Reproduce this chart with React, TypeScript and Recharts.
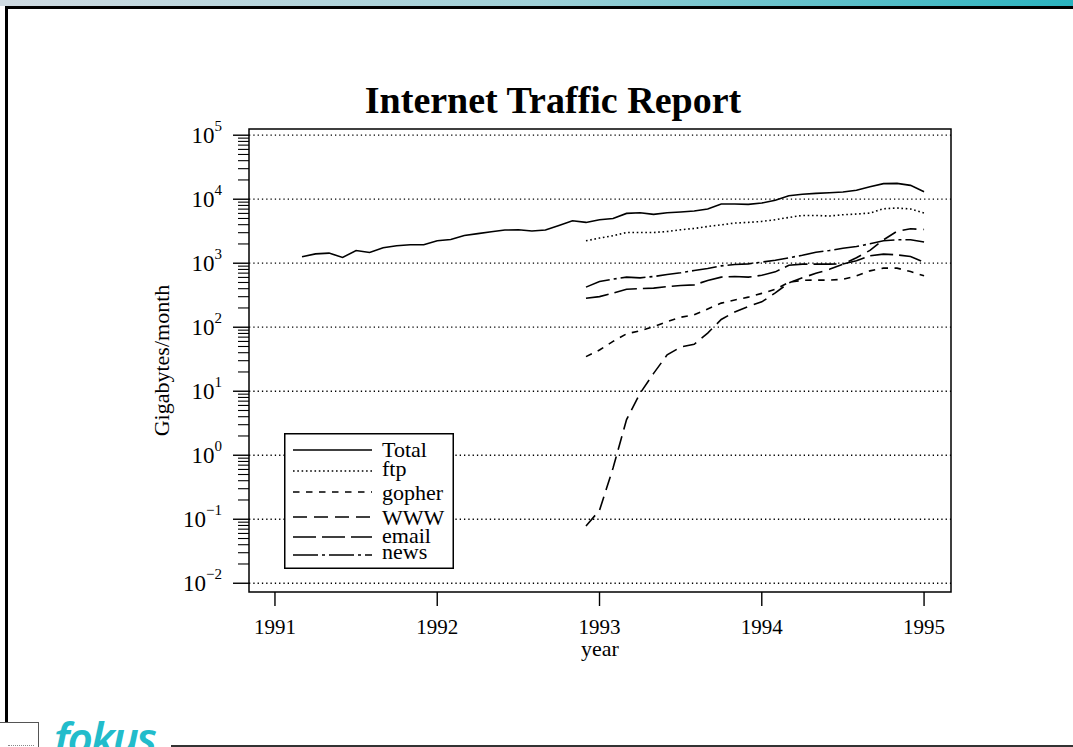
import React from 'react';
import {
  LineChart,
  Line,
  XAxis,
  YAxis,
  ReferenceLine,
  ReferenceArea,
  Legend,
  Label
} from 'recharts';

const FONT = '"Liberation Serif", "Times New Roman", serif';
const W = 1073;
const H = 747;

// monthly samples, Total starts earlier than the per-service series
const months = [
  '1991-03', '1991-04', '1991-05', '1991-06', '1991-07', '1991-08', '1991-09', '1991-10', '1991-11', '1991-12',
  '1992-01', '1992-02', '1992-03', '1992-04', '1992-05', '1992-06', '1992-07', '1992-08', '1992-09', '1992-10', '1992-11', '1992-12',
  '1993-01', '1993-02', '1993-03', '1993-04', '1993-05', '1993-06', '1993-07', '1993-08', '1993-09', '1993-10', '1993-11', '1993-12',
  '1994-01', '1994-02', '1994-03', '1994-04', '1994-05', '1994-06', '1994-07', '1994-08', '1994-09', '1994-10', '1994-11', '1994-12',
  '1995-01'
];
const firstServiceMonth = '1992-12';

const total = [
  1260, 1400, 1440, 1230, 1580, 1470, 1740, 1870, 1940, 1940,
  2240, 2350, 2710, 2900, 3100, 3300, 3330, 3180, 3300, 3890, 4610, 4340,
  4780, 5010, 6000, 6150, 5790, 6150, 6310, 6530, 7030, 8420, 8420, 8300,
  8720, 9640, 11350, 11980, 12330, 12640, 12970, 13840, 15700, 17520, 17680, 16440,
  13100
];
const ftp = [
  2240, 2470, 2690, 3020, 3020, 3020, 3130, 3330, 3490, 3750, 3980, 4240, 4340,
  4500, 4780, 5190, 5580, 5580, 5460, 5720, 5860, 6080, 7100, 7280, 7030, 6080
];
const gopher = [
  34.7, 44, 60, 79, 88, 102, 122, 143, 156, 193, 238, 267, 295,
  338, 391, 503, 540, 545, 545, 560, 635, 760, 838, 838, 741, 635
];
const www = [
  0.0785, 0.138, 0.63, 3.6, 9.3, 19, 37, 49, 54, 81, 132, 173, 211,
  249, 344, 494, 591, 695, 803, 962, 1216, 1590, 2320, 3160, 3450, 3370
];
const email = [
  284, 301, 340, 393, 402, 408, 432, 448, 459, 536, 606, 620, 606,
  647, 733, 927, 968, 968, 968, 975, 1092, 1306, 1387, 1352, 1273, 1040
];
const news = [
  423, 517, 564, 606, 591, 620, 666, 708, 769, 826, 910, 955, 978,
  1040, 1110, 1216, 1330, 1480, 1580, 1710, 1820, 2010, 2240, 2320, 2320, 2140
];

const yearTicks = [1991, 1992, 1993, 1994, 1995];
const decades = [-2, -1, 0, 1, 2, 3, 4, 5];
const minorSteps = [2, 3, 4, 5, 6, 7, 8, 9];

const xDomain = [1990.84, 1995.166];
const yDomain = [0.0073, 125000];

const series = [
  { key: 'total', name: 'Total', dash: undefined as string | undefined },
  { key: 'ftp', name: 'ftp', dash: '1.6 2.7' },
  { key: 'gopher', name: 'gopher', dash: '6.5 6.5' },
  { key: 'www', name: 'WWW', dash: '14 7' },
  { key: 'email', name: 'email', dash: '23 6' },
  { key: 'news', name: 'news', dash: '25 4 3 4' }
];

const toYear = (m: string) => {
  const [y, mo] = m.split('-').map(Number);
  return y + (mo - 1) / 12;
};

const svcStart = months.indexOf(firstServiceMonth);
const svc = (arr: number[], i: number) => (i >= svcStart ? arr[i - svcStart] : null);

const rows = months.map((m, i) => ({
  t: toYear(m),
  total: total[i],
  ftp: svc(ftp, i),
  gopher: svc(gopher, i),
  www: svc(www, i),
  email: svc(email, i),
  news: svc(news, i)
}));

const yTicks = decades.flatMap((d) =>
  d < 5 ? [10 ** d, ...minorSteps.map((k) => k * 10 ** d)] : [10 ** d]
);

function YTick(props: any) {
  const { x, y, payload } = props;
  const lg = Math.log10(payload.value);
  const e = Math.round(lg);
  const major = Math.abs(lg - e) < 1e-6;
  return (
    <g>
      <line
        x1={x - (major ? 16 : 11)}
        x2={x}
        y1={y}
        y2={y}
        stroke="#000"
        strokeWidth={major ? 1.4 : 1.1}
      />
      {major && (
        <text x={x - 27} y={y + 8} textAnchor="end" fill="#000" fontSize={23} fontFamily={FONT}>
          10
          <tspan dy={-12} fontSize={15}>
            {e < 0 ? '\u2212' + -e : String(e)}
          </tspan>
        </text>
      )}
    </g>
  );
}

const legendLineY = [17, 38, 59, 84, 104, 122];
const legendTextY = [24, 43, 67, 92, 110, 126];

function LegendBox() {
  return (
    <svg width={170} height={136} style={{ display: 'block' }}>
      <rect x={0.75} y={0.75} width={168.5} height={134.5} fill="#fff" stroke="#000" strokeWidth={1.5} />
      {series.map((s, i) => (
        <g key={s.key}>
          <line
            x1={9}
            x2={88}
            y1={legendLineY[i]}
            y2={legendLineY[i]}
            stroke="#000"
            strokeWidth={1.6}
            strokeDasharray={s.dash}
          />
          <text x={98} y={legendTextY[i]} fontSize={22} fontFamily={FONT} fill="#000">
            {s.name}
          </text>
        </g>
      ))}
    </svg>
  );
}

export default function App() {
  return (
    <div
      style={{
        position: 'absolute',
        left: 0,
        top: 0,
        width: W,
        height: H,
        overflow: 'hidden',
        background: '#fff',
        fontFamily: FONT
      }}
    >
      {/* slide frame */}
      <div
        style={{
          position: 'absolute',
          left: 0,
          top: 0,
          width: W,
          height: 6,
          background: 'linear-gradient(to right, #cfdae1, #9fd0d7 50%, #2ab3bf)'
        }}
      />
      <div style={{ position: 'absolute', left: 5, top: 6, width: W - 5, height: 3, background: '#000' }} />
      <div style={{ position: 'absolute', left: 5, top: 6, width: 3, height: 716, background: '#000' }} />
      <div
        style={{
          position: 'absolute',
          left: -1,
          top: 722,
          width: 40,
          height: 30,
          border: '1px solid #555',
          boxSizing: 'border-box'
        }}
      />
      <div
        style={{
          position: 'absolute',
          left: 8,
          top: 745,
          width: 26,
          height: 0,
          borderTop: '1px dotted #888'
        }}
      />
      <div
        style={{
          position: 'absolute',
          left: 171,
          top: 745,
          width: W - 171,
          height: 2,
          background: '#333'
        }}
      />
      <div
        style={{
          position: 'absolute',
          left: 54,
          top: 712,
          fontFamily: '"Noto Sans", sans-serif',
          fontStyle: 'italic',
          fontWeight: 600,
          fontSize: 44,
          lineHeight: '50px',
          letterSpacing: -2,
          color: '#22bccb'
        }}
      >
        fokus
      </div>

      <div
        style={{
          position: 'absolute',
          left: 303,
          top: 78,
          width: 500,
          textAlign: 'center',
          fontSize: 38,
          lineHeight: '44px',
          fontWeight: 'bold',
          color: '#000'
        }}
      >
        Internet Traffic Report
      </div>

      <div style={{ position: 'absolute', left: 0, top: 0 }}>
        <LineChart width={W} height={H} data={rows} margin={{ top: 129, right: 122, bottom: 91, left: 169 }}>
          <XAxis
            dataKey="t"
            type="number"
            domain={xDomain}
            allowDataOverflow
            ticks={yearTicks}
            interval={0}
            height={64}
            axisLine={false}
            stroke="#000"
            tickSize={14}
            tickMargin={13}
            tickLine={{ stroke: '#000', strokeWidth: 1.4 }}
            tick={{ fill: '#000', fontSize: 21, fontFamily: FONT }}
          >
            <Label value="year" position="insideBottom" offset={0} fill="#000" fontSize={22} fontFamily={FONT} />
          </XAxis>
          <YAxis
            type="number"
            scale="log"
            domain={yDomain}
            allowDataOverflow
            ticks={yTicks}
            interval={0}
            width={80}
            axisLine={false}
            tickLine={false}
            tickSize={0}
            tickMargin={0}
            tick={<YTick />}
          >
            <Label
              value="Gigabytes/month"
              angle={-90}
              position="insideLeft"
              offset={-8}
              fill="#000"
              fontSize={22}
              fontFamily={FONT}
              style={{ textAnchor: 'middle' }}
            />
          </YAxis>

          {decades.map((d) => (
            <ReferenceLine
              key={d}
              y={10 ** d}
              stroke="#000"
              strokeWidth={1.3}
              strokeDasharray="1.3 3"
            />
          ))}

          <ReferenceArea
            x1={xDomain[0]}
            x2={xDomain[1]}
            y1={yDomain[0]}
            y2={yDomain[1]}
            fill="none"
            stroke="#000"
            strokeWidth={1.5}
            ifOverflow="visible"
          />

          {series.map((s) => (
            <Line
              key={s.key}
              type="linear"
              dataKey={s.key}
              name={s.name}
              stroke="#000"
              strokeWidth={1.6}
              strokeDasharray={s.dash}
              dot={false}
              activeDot={false}
              connectNulls={false}
              isAnimationActive={false}
            />
          ))}

          <Legend
            layout="horizontal"
            verticalAlign="middle"
            align="center"
            content={() => <LegendBox />}
            wrapperStyle={{ left: 284, top: 433, width: 170, height: 136 }}
          />
        </LineChart>
      </div>
    </div>
  );
}
